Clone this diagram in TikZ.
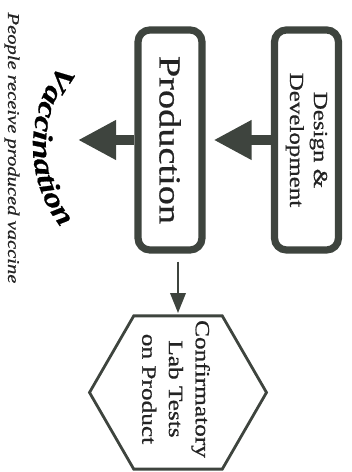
\documentclass[tikz,border=0pt]{standalone}
\usepackage{fontspec}
\setmainfont{Liberation Serif}[FakeStretch=1.25, FakeBold=0.7]
\usetikzlibrary{arrows.meta,decorations.text}
\definecolor{ink}{RGB}{62,68,62}
\definecolor{txt}{RGB}{35,35,35}

\begin{document}
\begin{tikzpicture}[
    x=0.025cm, y=0.025cm,
    every node/.style={align=center, text=txt},
    stagebox/.style={rectangle, rounded corners=0.3cm, draw=ink, fill=white,
                     line width=0.18cm, rotate=-90, inner sep=0pt,
                     minimum width=5.5cm, minimum height=1.6cm},
    hexline/.style={draw=ink, line width=0.07cm, line join=miter},
    bigarr/.style={-{Triangle[length=0.95cm, width=0.93cm]},
                   line width=0.25cm, draw=ink},
    thinarr/.style={-{Triangle[length=0.5cm, width=0.38cm]},
                    line width=0.07cm, draw=ink}
  ]
  \useasboundingbox (0,0) rectangle (352,472);

  \node[stagebox, font=\fontsize{14.2}{17}\selectfont] (dd) at (306.5,332)
    {Design \&\\Development};
  \node[stagebox, font=\fontsize{21.8}{26}\selectfont] (prod) at (170,332)
    {Production};

  % lab test hexagon
  \coordinate (hex) at (178,79.5);
  \coordinate (hextop) at ([shift={(90:76.6)}]hex);
  \draw[hexline] ([shift={(0:88.5)}]hex)
    \foreach \a in {60,120,...,300} { -- ([shift={(\a:88.5)}]hex) } -- cycle;
  \node[rotate=-90, font=\fontsize{14.4}{19}\selectfont] (hextxt)
    at (176,83) {Confirmatory\\Lab Tests\\on Product};

  \coordinate (vac) at (78,332);
  \coordinate (arcc) at (165,326);

  % curved stage label and caption
  \path[decorate, decoration={text along path, text align=center,
        text format delimiters={|}{|},
        text={|\fontsize{20}{23}\selectfont\bfseries\itshape|Vaccination}}]
    ([shift={(145:132)}]arcc) arc[start angle=145, end angle=215, radius=132];
  \node[rotate=-90, font=\fontsize{11.7}{13}\selectfont\itshape] (ppl)
    at (12,324) {People receive produced vaccine};

  \draw[bigarr] (dd.south) -- ([xshift=0.2cm]prod.north);
  \draw[bigarr] (prod.south) -- (vac);
  \draw[thinarr, shorten <=0.2cm, shorten >=0.07cm]
    (hextop |- prod.east) -- (hextop);
\end{tikzpicture}
\end{document}
